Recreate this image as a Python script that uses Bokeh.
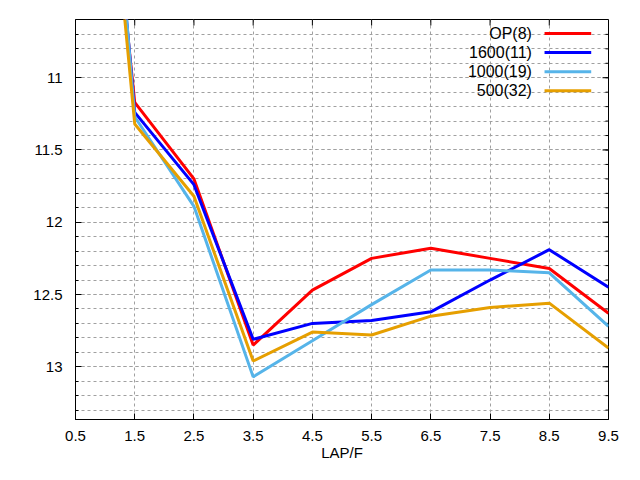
from bokeh.plotting import figure
from bokeh.models import Range1d, FixedTicker, Label, BoxAnnotation
from bokeh.embed import file_html
from bokeh.resources import INLINE
import numpy as np

# ---- data ----
laps = [0.5, 1.5, 2.5, 3.5, 4.5, 5.5, 6.5, 7.5, 8.5, 9.5]
op8 = [7.2, 11.17, 11.70, 12.85, 12.47, 12.25, 12.18, 12.25, 12.32, 12.63]
s1600 = [6.6, 11.24, 11.74, 12.81, 12.70, 12.68, 12.62, 12.40, 12.19, 12.45]
s1000 = [6.3, 11.27, 11.89, 13.07, 12.82, 12.57, 12.33, 12.33, 12.35, 12.72]
s500 = [7.0, 11.32, 11.82, 12.96, 12.76, 12.78, 12.65, 12.59, 12.56, 12.87]

series_names = ["OP(8)", "1600(11)", "1000(19)", "500(32)"]
series_values = [op8, s1600, s1000, s500]
series_colors = ["#ff0000", "#0000ff", "#56b4e9", "#e69f00"]

xtick_values = [0.5, 1.5, 2.5, 3.5, 4.5, 5.5, 6.5, 7.5, 8.5, 9.5]
ytick_values = [11, 11.5, 12, 12.5, 13]
ytick_labels = ["11", "11.5", "12", "12.5", "13"]
x_label = "LAP/F"

FONT = "Liberation Sans"
FS = "15px"

X0, X1 = 0.5, 9.5
Y_BOT, Y_TOP = 13.365, 10.597
FW, FH = 533, 400

p = figure(width=624, height=464, output_backend="svg", toolbar_location=None,
           x_range=Range1d(X0, X1), y_range=Range1d(Y_BOT, Y_TOP),
           min_border_left=75, min_border_right=16, min_border_top=19,
           min_border_bottom=45)
p.outline_line_color = "black"
p.outline_line_width = 1
p.background_fill_color = "white"
p.border_fill_color = "white"

yminor = [round(v, 1) for v in np.arange(10.7, 13.31, 0.1)]
xt = FixedTicker(ticks=xtick_values, minor_ticks=[])
yt = FixedTicker(ticks=ytick_values, minor_ticks=yminor)

p.xaxis.ticker = xt
p.yaxis.ticker = yt
p.yaxis.major_label_overrides = {v: l for v, l in zip(ytick_values, ytick_labels)}

for ax in (p.xaxis[0], p.yaxis[0]):
    ax.major_tick_in = 6
    ax.major_tick_out = 0
    ax.minor_tick_in = 3
    ax.minor_tick_out = 0
    ax.axis_line_color = "black"
    ax.major_tick_line_color = "black"
    ax.minor_tick_line_color = "black"
    ax.major_label_text_font = FONT
    ax.major_label_text_font_size = FS
    ax.major_label_text_color = "black"
p.xaxis.minor_tick_line_color = None
p.yaxis.major_label_standoff = 13
p.xaxis.major_label_standoff = 11
p.xaxis.axis_label = x_label
p.xaxis.axis_label_text_font = FONT
p.xaxis.axis_label_text_font_size = FS
p.xaxis.axis_label_text_font_style = "normal"
p.xaxis.axis_label_text_color = "black"
p.xaxis.axis_label_standoff = 0

ux = (X1 - X0) / FW
uy = (Y_BOT - Y_TOP) / FH

grid_color = "#a0a0a0"
p.xgrid.grid_line_color = grid_color
p.xgrid.grid_line_dash = "3 3"
p.ygrid.grid_line_color = grid_color
p.ygrid.grid_line_dash = "3 3"
p.ygrid.minor_grid_line_color = grid_color
p.ygrid.minor_grid_line_dash = "3 3"

# mirrored inward ticks on top and right edges
p.segment(x0=xtick_values, y0=[Y_TOP] * len(xtick_values),
          x1=xtick_values, y1=[Y_TOP + 6 * uy] * len(xtick_values),
          line_color="black", line_width=1)
p.segment(x0=[X1] * len(ytick_values), y0=ytick_values,
          x1=[X1 - 6 * ux] * len(ytick_values), y1=ytick_values,
          line_color="black", line_width=1)
p.segment(x0=[X1] * len(yminor), y0=yminor,
          x1=[X1 - 3 * ux] * len(yminor), y1=yminor,
          line_color="black", line_width=1)

for vals, col in zip(series_values, series_colors):
    p.line(laps, vals, line_color=col, line_width=3)

# legend (gnuplot style: text then sample)
leg_text_x = 8.207
leg_s0, leg_s1 = 8.42, 9.208
leg_rows = [10.694, 10.826, 10.958, 11.090]
half = 1.5 * uy
for name, col, yy in zip(series_names, series_colors, leg_rows):
    p.add_layout(Label(x=leg_text_x, y=yy, text=name, text_align="right",
                       text_baseline="middle", text_font=FONT,
                       text_font_size="16px", text_color="black"))
    p.add_layout(BoxAnnotation(left=leg_s0, right=leg_s1, top=yy - half,
                               bottom=yy + half, fill_color=col, fill_alpha=1.0,
                               line_color=None))

open("out.html", "w").write(file_html(p, INLINE))
